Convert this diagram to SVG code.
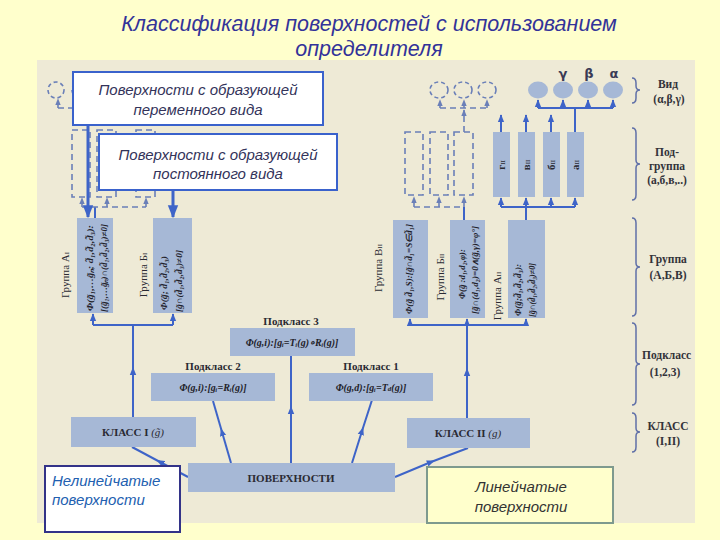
<svg xmlns="http://www.w3.org/2000/svg" width="720" height="540" viewBox="0 0 720 540">
<defs>
  <clipPath id="photo"><rect x="37" y="60" width="658" height="463"/></clipPath>
  <marker id="ah" viewBox="0 0 10 10" refX="9" refY="5" markerWidth="8" markerHeight="8" markerUnits="userSpaceOnUse" orient="auto"><path d="M0,1 L10,5 L0,9 z" fill="#3E64C8"/></marker>
  <marker id="ahm" viewBox="0 0 10 10" refX="5" refY="5" markerWidth="8" markerHeight="8" markerUnits="userSpaceOnUse" orient="auto"><path d="M0,1 L10,5 L0,9 z" fill="#3E64C8"/></marker>
  <marker id="ahb" viewBox="0 0 10 10" refX="9" refY="5" markerWidth="13" markerHeight="13" markerUnits="userSpaceOnUse" orient="auto"><path d="M0,1 L10,5 L0,9 z" fill="#3E64C8"/></marker>
  <marker id="ahd" viewBox="0 0 10 10" refX="9" refY="5" markerWidth="7" markerHeight="7" markerUnits="userSpaceOnUse" orient="auto"><path d="M0,1 L10,5 L0,9 z" fill="#6A7FB8"/></marker>
  <style>
    .title{font-family:"Liberation Sans",Arial,sans-serif;font-style:italic;font-size:21.5px;fill:#333399;text-anchor:middle}
    .call{font-family:"Liberation Sans",Arial,sans-serif;font-style:italic;font-size:15px;fill:#33335A;text-anchor:middle}
    .cbox{fill:#FFFFFF;stroke:#3A62CC;stroke-width:2}
    .gbox{fill:#A6B8D6}
    .dbox{fill:none;stroke:#6A7FB8;stroke-width:1.6;stroke-dasharray:6,4}
    .c{fill:none;stroke:#3E64C8;stroke-width:2}
    .ct{fill:none;stroke:#3E64C8;stroke-width:3}
    .d{fill:none;stroke:#6A7FB8;stroke-width:1.6;stroke-dasharray:6,4}
    .lbl{font-family:"Liberation Serif","Times New Roman",serif;font-size:11px;fill:#2A2A33;text-anchor:middle}
    .b{font-weight:bold}
    .f{font-family:"Liberation Serif","Times New Roman",serif;font-size:8.5px;font-weight:bold;font-style:italic;fill:#22222A;text-anchor:middle}
    .fm{font-family:"Liberation Serif","Times New Roman",serif;font-size:10px;font-weight:bold;font-style:italic;fill:#22222A;text-anchor:middle}
    .leg{font-family:"Liberation Serif","Times New Roman",serif;font-size:11.5px;font-weight:bold;fill:#33333A;text-anchor:middle}
    .brace{fill:none;stroke:#6070A8;stroke-width:1.5}
    .greek{font-family:"DejaVu Sans",sans-serif;font-size:13px;font-weight:bold;fill:#3A3A55;text-anchor:middle}
  </style>
</defs>
<rect x="0" y="0" width="720" height="540" fill="#FFFFCC"/>
<text class="title" x="369" y="31">Классификация поверхностей с использованием</text>
<text class="title" x="369" y="56">определителя</text>

<g clip-path="url(#photo)">
  <rect x="37" y="60" width="658" height="463" fill="#EEEAD6"/>

  <g id="legend">
    <path class="brace" d="M632,78 Q636,78 636,83 V86 Q636,90 640,90 Q636,90 636,94 V98 Q636,103 632,103"/>
    <text class="leg" x="668" y="88">Вид</text>
    <text class="leg" x="669" y="103">(α,β,γ)</text>
    <path class="brace" d="M632,128 Q636,128 636,133 V160 Q636,164 640,164 Q636,164 636,168 V195 Q636,200 632,200"/>
    <text class="leg" x="667" y="156">Под-</text>
    <text class="leg" x="667" y="170">группа</text>
    <text class="leg" x="667" y="184">(а,б,в,..)</text>
    <path class="brace" d="M632,218 Q636,218 636,223 V263 Q636,267 640,267 Q636,267 636,271 V311 Q636,316 632,316"/>
    <text class="leg" x="668" y="263">Группа</text>
    <text class="leg" x="668" y="279">(А,Б,В)</text>
    <path class="brace" d="M632,323 Q636,323 636,328 V360 Q636,364 640,364 Q636,364 636,368 V400 Q636,405 632,405"/>
    <text class="leg" x="642" y="359" style="text-anchor:start">Подкласс</text>
    <text class="leg" x="665" y="376">(1,2,3)</text>
    <path class="brace" d="M632,413 Q636,413 636,418 V428 Q636,432 640,432 Q636,432 636,436 V447 Q636,452 632,452"/>
    <text class="leg" x="668" y="430">КЛАСС</text>
    <text class="leg" x="668" y="445">(I,II)</text>
  </g>

  <g id="connectors">
    <path class="d" d="M58,108 V99" marker-end="url(#ahd)"/>
    <path class="d" d="M58,108 H76"/>
    <path class="c" d="M95,218 V207"/>
    <path class="d" d="M82,207 H146"/>
    <path class="d" d="M82,207 V198" marker-end="url(#ahd)"/>
    <path class="d" d="M107,207 V198" marker-end="url(#ahd)"/>
    <path class="d" d="M146,207 V198" marker-end="url(#ahd)"/>
    <path class="c" d="M133,417 V371 V325" marker-mid="url(#ahm)"/>
    <path class="c" d="M93,325 H173"/>
    <path class="c" d="M93,325 V314" marker-end="url(#ah)"/>
    <path class="c" d="M173,325 V314" marker-end="url(#ah)"/>
    <path class="c" d="M467,418 V372 V325" marker-mid="url(#ahm)"/>
    <path class="c" d="M410,325 H526"/>
    <path class="c" d="M410,325 V319" marker-end="url(#ah)"/>
    <path class="c" d="M467,325 V319" marker-end="url(#ah)"/>
    <path class="c" d="M526,325 V319" marker-end="url(#ah)"/>
    <path class="c" d="M188,477 L160,462 L132,447" marker-mid="url(#ahm)"/>
    <path class="c" d="M231,463 L222,432 L213,401" marker-mid="url(#ahm)"/>
    <path class="c" d="M291,463 L291,410 L291,356" marker-mid="url(#ahm)"/>
    <path class="c" d="M352,463 L362,431 L372,400" marker-mid="url(#ahm)"/>
    <path class="c" d="M395,477 L431,462 L468,448" marker-mid="url(#ahm)"/>
    <path class="c" d="M464,220 V207"/>
    <path class="d" d="M414,207 H464"/>
    <path class="d" d="M414,207 V197" marker-end="url(#ahd)"/>
    <path class="d" d="M439,207 V197" marker-end="url(#ahd)"/>
    <path class="d" d="M464,207 V197" marker-end="url(#ahd)"/>
    <path class="c" d="M526,220 V207"/>
    <path class="c" d="M501,207 H575"/>
    <path class="c" d="M501,207 V198" marker-end="url(#ah)"/>
    <path class="c" d="M526,207 V198" marker-end="url(#ah)"/>
    <path class="c" d="M551,207 V198" marker-end="url(#ah)"/>
    <path class="c" d="M575,207 V198" marker-end="url(#ah)"/>
    <path class="d" d="M464,132 V110" marker-end="url(#ahd)"/>
    <path class="d" d="M440,108 H487"/>
    <path class="d" d="M440,108 V100" marker-end="url(#ahd)"/>
    <path class="d" d="M464,108 V100" marker-end="url(#ahd)"/>
    <path class="d" d="M487,108 V100" marker-end="url(#ahd)"/>
    <path class="c" d="M501,132 V115" marker-end="url(#ah)"/>
    <path class="c" d="M526,132 V115" marker-end="url(#ah)"/>
    <path class="c" d="M551,132 V115" marker-end="url(#ah)"/>
    <path class="c" d="M575,132 V108"/>
    <path class="c" d="M538,108 H613"/>
    <path class="c" d="M538,108 V100" marker-end="url(#ah)"/>
    <path class="c" d="M563,108 V100" marker-end="url(#ah)"/>
    <path class="c" d="M588,108 V100" marker-end="url(#ah)"/>
    <path class="c" d="M613,108 V100" marker-end="url(#ah)"/>
  </g>

  <g id="views-left">
    <ellipse class="dbox" cx="56" cy="90" rx="8" ry="8" style="stroke-dasharray:4,3"/>
    <ellipse class="dbox" cx="80" cy="90" rx="8" ry="8" style="stroke-dasharray:4,3"/>
  </g>
  <g id="views-right-dashed">
    <ellipse class="dbox" cx="439" cy="90" rx="9" ry="8" style="stroke-dasharray:4,3"/>
    <ellipse class="dbox" cx="463" cy="90" rx="9" ry="8" style="stroke-dasharray:4,3"/>
    <ellipse class="dbox" cx="487" cy="90" rx="9" ry="8" style="stroke-dasharray:4,3"/>
  </g>
  <g id="views-right">
    <ellipse cx="538" cy="90" rx="10" ry="8.5" fill="#A6B8D6"/>
    <ellipse cx="563" cy="90" rx="10" ry="8.5" fill="#A6B8D6"/>
    <ellipse cx="588" cy="90" rx="10" ry="8.5" fill="#A6B8D6"/>
    <ellipse cx="613" cy="90" rx="10" ry="8.5" fill="#A6B8D6"/>
    <text class="greek" x="563" y="78">γ</text>
    <text class="greek" x="589" y="78">β</text>
    <text class="greek" x="614" y="78">α</text>
  </g>

  <g id="subgroups-left">
    <rect class="dbox" x="72" y="130" width="18" height="67"/>
    <rect class="dbox" x="97" y="130" width="19" height="67"/>
    <rect class="dbox" x="136" y="130" width="19" height="67"/>
  </g>
  <g id="subgroups-right-dashed">
    <rect class="dbox" x="405" y="132" width="18" height="63"/>
    <rect class="dbox" x="430" y="132" width="18" height="63"/>
    <rect class="dbox" x="454" y="132" width="19" height="63"/>
  </g>
  <g id="sub-g2"><rect class="gbox" x="493" y="132" width="17" height="65"/>
    <text class="lbl b" transform="translate(505,165) rotate(-90)">г<tspan font-size="6">II</tspan></text></g>
  <g id="sub-v2"><rect class="gbox" x="518" y="132" width="17" height="65"/>
    <text class="lbl b" transform="translate(530,165) rotate(-90)">в<tspan font-size="6">II</tspan></text></g>
  <g id="sub-b2"><rect class="gbox" x="543" y="132" width="17" height="65"/>
    <text class="lbl b" transform="translate(555,165) rotate(-90)">б<tspan font-size="6">II</tspan></text></g>
  <g id="sub-a2"><rect class="gbox" x="567" y="132" width="17" height="65"/>
    <text class="lbl b" transform="translate(579,165) rotate(-90)">а<tspan font-size="6">II</tspan></text></g>

  <g id="group-a1">
    <rect class="gbox" x="77" y="218" width="36" height="95"/>
    <text class="lbl" transform="translate(69,275) rotate(-90)">Группа А<tspan font-size="7">I</tspan></text>
    <text class="f" transform="translate(93,268) rotate(-90)" textLength="86" lengthAdjust="spacingAndGlyphs">Φ(g̃₁,…g̃ₙ; d̃₁,d̃₂,d̃₃):</text>
    <text class="f" transform="translate(107,268) rotate(-90)" textLength="88" lengthAdjust="spacingAndGlyphs">[(g̃₁,…g̃ₙ)∩(d̃₁,d̃₂,d̃₃)≠0]</text>
  </g>
  <g id="group-b1">
    <rect class="gbox" x="153" y="218" width="39" height="95"/>
    <text class="lbl" transform="translate(147,275) rotate(-90)">Группа Б<tspan font-size="7">I</tspan></text>
    <text class="f" transform="translate(167,283) rotate(-90)" textLength="54" lengthAdjust="spacingAndGlyphs">Φ(g̃; d̃₁,d̃₂,d̃₃)</text>
    <text class="f" transform="translate(182,281) rotate(-90)" textLength="62" lengthAdjust="spacingAndGlyphs">[g̃∩(d̃₁,d̃₂,d̃₃)≠0]</text>
  </g>
  <g id="group-v2">
    <rect class="gbox" x="393" y="220" width="35" height="98"/>
    <text class="lbl" transform="translate(382,268) rotate(-90)">Группа В<tspan font-size="7">II</tspan></text>
    <text class="f" transform="translate(412,269) rotate(-90)" textLength="90" lengthAdjust="spacingAndGlyphs">Φ(g̃ d̃₁,S):[g̃∩d̃₁=S∈d̃₁]</text>
  </g>
  <g id="group-b2">
    <rect class="gbox" x="450" y="220" width="35" height="98"/>
    <text class="lbl" transform="translate(444,277) rotate(-90)">Группа Б<tspan font-size="7">II</tspan></text>
    <text class="f" transform="translate(465,274) rotate(-90)" textLength="50" lengthAdjust="spacingAndGlyphs">Φ(g̃ :d₁,d₂,φ):</text>
    <text class="f" transform="translate(478,270) rotate(-90)" textLength="88" lengthAdjust="spacingAndGlyphs">[g̃∩(d₁,d₂)=0∧(g̃,γ)=φ°]</text>
  </g>
  <g id="group-a2">
    <rect class="gbox" x="508" y="220" width="37" height="98"/>
    <text class="lbl" transform="translate(501,296) rotate(-90)">Группа А<tspan font-size="7">II</tspan></text>
    <text class="f" transform="translate(521,290) rotate(-90)" textLength="52" lengthAdjust="spacingAndGlyphs">Φ(g̃;d̃₁,d̃₂,d̃₃):</text>
    <text class="f" transform="translate(535,290) rotate(-90)" textLength="54" lengthAdjust="spacingAndGlyphs">[g̃∩(d̃₁,d̃₂,d̃₃)≠0]</text>
  </g>

  <g id="subclass-3">
    <text class="lbl b" x="291" y="325">Подкласс 3</text>
    <rect class="gbox" x="230" y="328" width="125" height="28"/>
    <text class="fm" x="292" y="346">Φ(g,i):[gᵢ=Tᵢ(g)∘Rᵢ(g)]</text>
  </g>
  <g id="subclass-2">
    <text class="lbl b" x="213" y="370">Подкласс 2</text>
    <rect class="gbox" x="151" y="373" width="124" height="28"/>
    <text class="fm" x="213" y="391">Φ(g,i):[gᵢ=Rᵢ(g)]</text>
  </g>
  <g id="subclass-1">
    <text class="lbl b" x="371" y="370">Подкласс 1</text>
    <rect class="gbox" x="309" y="373" width="124" height="28"/>
    <text class="fm" x="371" y="391">Φ(g,d):[gᵢ=T<tspan font-size="7">d</tspan>(g)]</text>
  </g>

  <g id="class-1">
    <rect class="gbox" x="71" y="417" width="125" height="30"/>
    <text class="lbl" x="133" y="436"><tspan class="b">КЛАСС I</tspan> <tspan font-style="italic">(g̃)</tspan></text>
  </g>
  <g id="class-2">
    <rect class="gbox" x="407" y="418" width="123" height="30"/>
    <text class="lbl" x="468" y="437"><tspan class="b">КЛАСС II</tspan> <tspan font-style="italic">(g)</tspan></text>
  </g>
  <g id="surfaces">
    <rect class="gbox" x="188" y="463" width="207" height="29"/>
    <text class="lbl b" x="291" y="482">ПОВЕРХНОСТИ</text>
  </g>
</g>

<g id="callout-variable">
  <rect class="cbox" x="73" y="72" width="250" height="53"/>
  <text class="call" x="198" y="95">Поверхности с образующей</text>
  <text class="call" x="198" y="115">переменного вида</text>
</g>
<path class="ct" d="M88,126 V217" marker-end="url(#ahb)"/>
<g id="callout-constant">
  <rect class="cbox" x="99" y="134" width="238" height="56"/>
  <text class="call" x="218" y="160">Поверхности с образующей</text>
  <text class="call" x="218" y="179">постоянного вида</text>
</g>
<path class="ct" d="M173,191 V217" marker-end="url(#ahb)"/>
<g id="callout-nonruled">
  <rect x="45" y="466" width="135" height="66" fill="#FFFFFF" stroke="#333388" stroke-width="2"/>
  <text class="call" x="52" y="486" style="text-anchor:start;fill:#2260B0">Нелинейчатые</text>
  <text class="call" x="52" y="505" style="text-anchor:start;fill:#2260B0">поверхности</text>
</g>
<g id="callout-ruled">
  <rect x="427" y="467" width="186" height="56" fill="#FFFFCC" stroke="#7E9A8E" stroke-width="2"/>
  <text class="call" x="521" y="492" style="fill:#333333">Линейчатые</text>
  <text class="call" x="521" y="512" style="fill:#333333">поверхности</text>
</g>
</svg>
